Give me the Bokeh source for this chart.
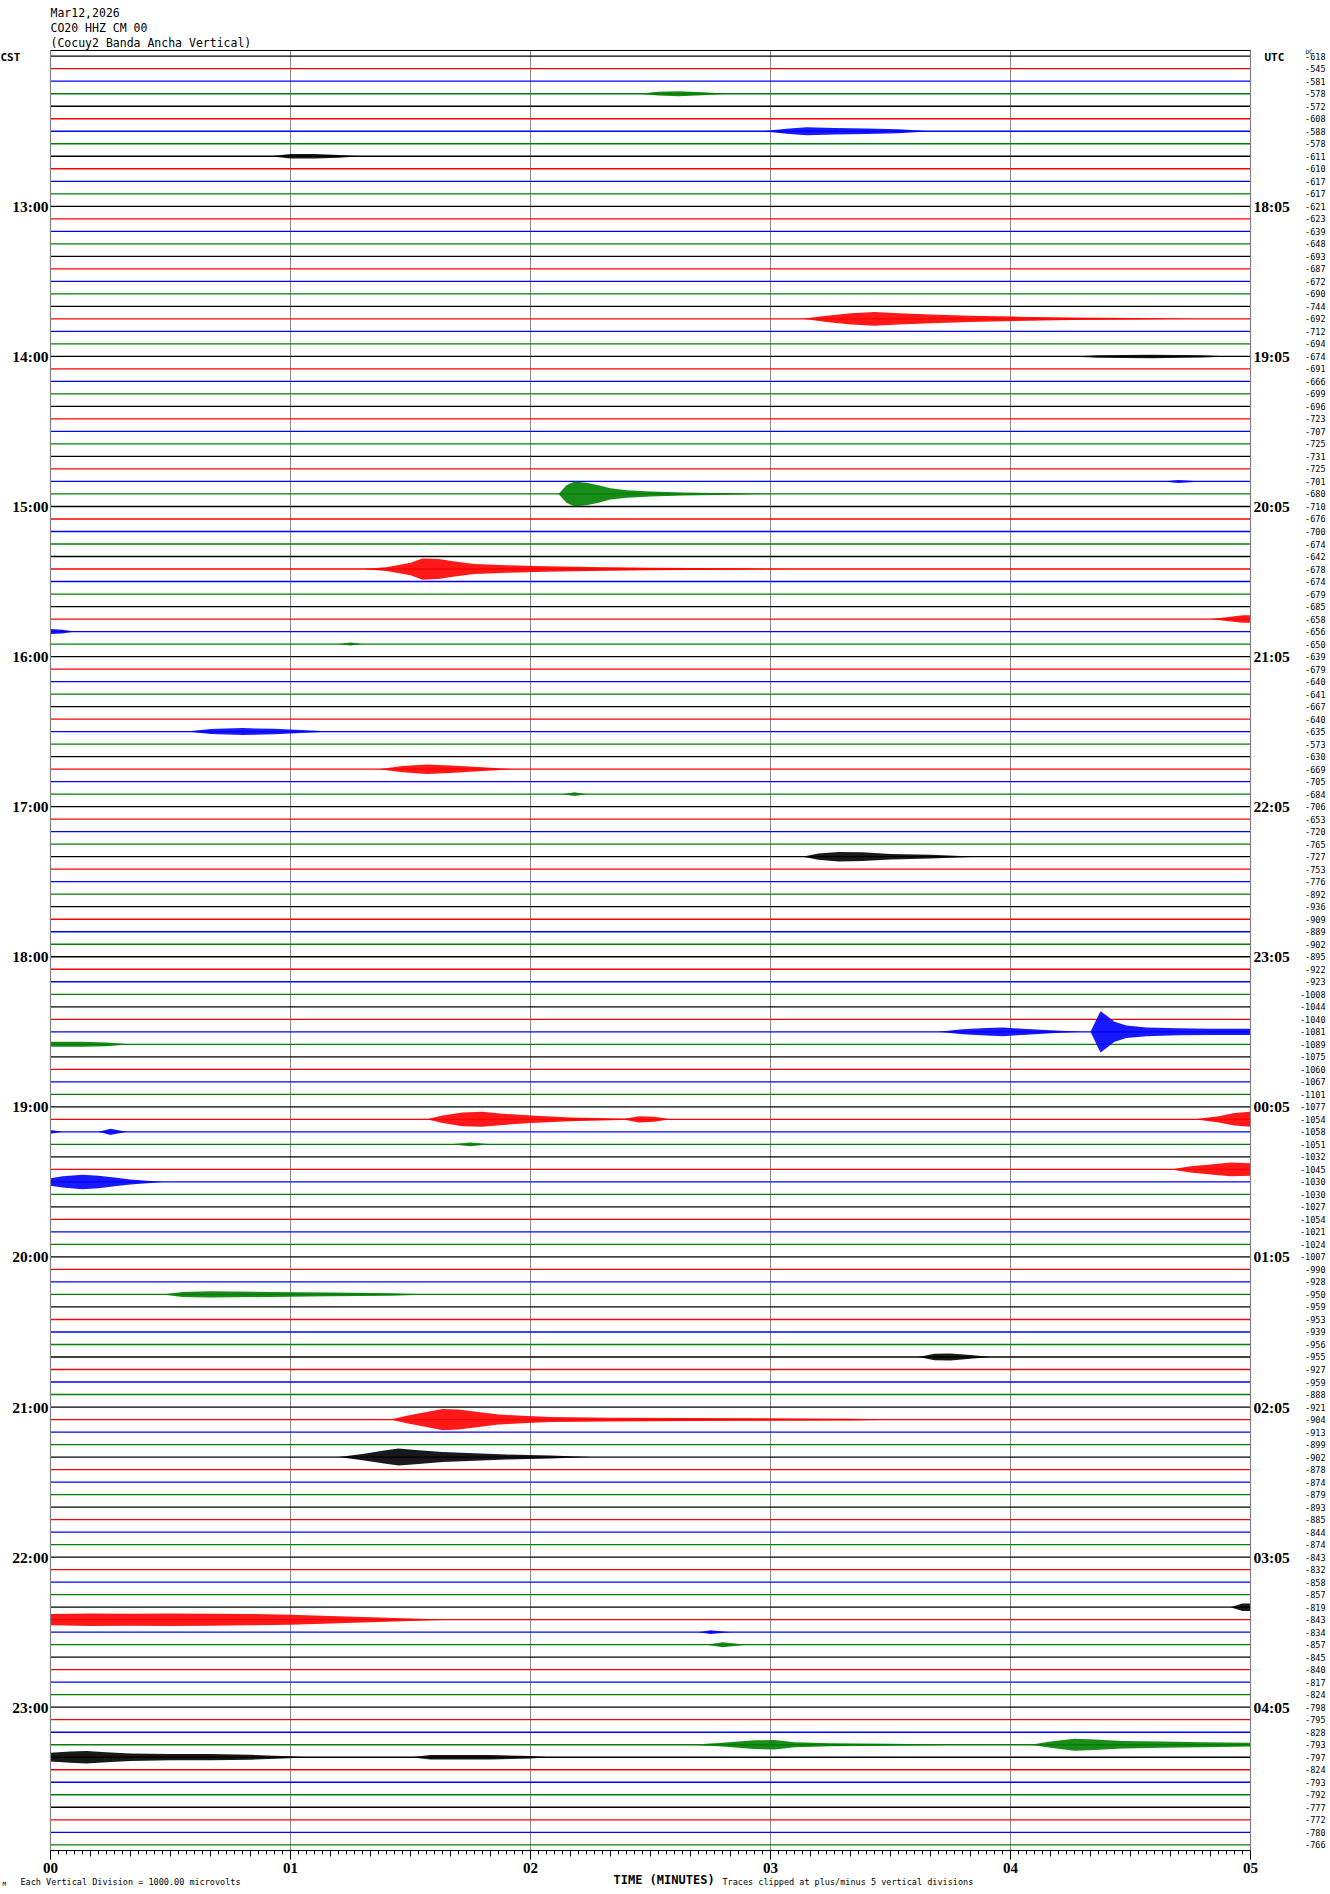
from bokeh.plotting import figure
from bokeh.models import Range1d
from bokeh.embed import file_html
from bokeh.resources import INLINE
from bokeh.core.properties import value

# ---------------- data ----------------
title_lines = ["Mar12,2026", "CO20 HHZ CM 00", "(Cocuy2 Banda Ancha Vertical)"]
n_rows = 144
row_seconds = 300
trace_colors = ["#000000", "#ff0000", "#0000ff", "#008000"]

dc_offsets = [
    -618, -545, -581, -578, -572, -608, -588, -578, -611, -610, -617, -617,
    -621, -623, -639, -648, -693, -687, -672, -690, -744, -692, -712, -694,
    -674, -691, -666, -699, -696, -723, -707, -725, -731, -725, -701, -680,
    -710, -676, -700, -674, -642, -678, -674, -679, -685, -658, -656, -650,
    -639, -679, -640, -641, -667, -640, -635, -573, -630, -669, -705, -684,
    -706, -653, -720, -765, -727, -753, -776, -892, -936, -909, -889, -902,
    -895, -922, -923, -1008, -1044, -1040, -1081, -1089, -1075, -1060, -1067, -1101,
    -1077, -1054, -1058, -1051, -1032, -1045, -1030, -1030, -1027, -1054, -1021, -1024,
    -1007, -990, -928, -950, -959, -953, -939, -956, -955, -927, -959, -888,
    -921, -904, -913, -899, -902, -878, -874, -879, -893, -885, -844, -874,
    -843, -832, -858, -857, -819, -843, -834, -857, -845, -840, -817, -824,
    -798, -795, -828, -793, -797, -824, -793, -792, -777, -772, -780, -766,
]

hour_rows = [12, 24, 36, 48, 60, 72, 84, 96, 108, 120, 132]
cst_labels = ["13:00", "14:00", "15:00", "16:00", "17:00", "18:00",
              "19:00", "20:00", "21:00", "22:00", "23:00"]
utc_labels = ["18:05", "19:05", "20:05", "21:05", "22:05", "23:05",
              "00:05", "01:05", "02:05", "03:05", "04:05"]
minute_labels = ["00", "01", "02", "03", "04", "05"]
minute_grid = [60, 120, 180, 240]

# events: (row, times in seconds, envelope half-amplitude in microvolts)
events = [
    (3,   [147, 152, 157, 163, 170], [0, 150, 200, 120, 0]),
    (6,   [178, 184, 189, 196, 204, 212, 220], [0, 200, 320, 250, 220, 150, 0]),
    (8,   [55, 60, 66, 72, 78], [0, 180, 180, 110, 0]),
    (21,  [188, 194, 200, 206, 212, 220, 230, 241, 255, 270, 285],
          [0, 250, 450, 550, 450, 350, 250, 180, 100, 60, 0]),
    (24,  [255, 262, 275, 288, 295], [0, 100, 140, 90, 0]),
    (34,  [278, 282, 288], [0, 120, 0]),
    (35,  [127, 129, 131, 134, 137, 140, 144, 150, 158, 170, 180],
          [0, 700, 1000, 900, 700, 450, 300, 200, 120, 60, 0]),
    (41,  [78, 84, 90, 93, 97, 101, 106, 114, 124, 135, 150, 170, 185],
          [0, 150, 500, 850, 800, 600, 400, 300, 220, 160, 100, 60, 0]),
    (45,  [290, 294, 298, 300], [0, 150, 300, 300]),
    (46,  [0, 3, 6], [200, 150, 0]),
    (47,  [72, 75, 78], [0, 120, 0]),
    (54,  [34, 40, 48, 56, 64, 70], [0, 200, 280, 220, 100, 0]),
    (57,  [82, 88, 94, 100, 108, 116], [0, 250, 380, 300, 150, 0]),
    (59,  [128, 131, 134], [0, 150, 0]),
    (64,  [188, 192, 197, 203, 210, 220, 232], [0, 250, 380, 350, 220, 150, 0]),
    (78,  [222, 228, 234, 238, 243, 250, 258], [0, 200, 300, 350, 250, 120, 0]),
    (78,  [260, 261.5, 262.5, 264, 266, 269, 274, 282, 290, 300],
          [0, 1000, 1650, 1300, 800, 500, 350, 280, 250, 250]),
    (79,  [0, 8, 14, 20], [200, 200, 150, 0]),
    (85,  [94, 98, 103, 108, 113, 120, 130, 140, 150], [0, 300, 550, 600, 450, 300, 150, 80, 0]),
    (85,  [143, 147, 151, 155], [0, 250, 200, 0]),
    (85,  [286, 292, 296, 300], [0, 250, 500, 600]),
    (86,  [0, 3], [150, 0]),
    (86,  [12, 15, 19], [0, 250, 0]),
    (87,  [100, 105, 110], [0, 150, 0]),
    (89,  [280, 285, 290, 295, 300], [0, 250, 400, 550, 500]),
    (90,  [0, 3, 8, 12, 16, 20, 25, 28], [300, 450, 580, 500, 350, 200, 80, 0]),
    (99,  [28, 33, 40, 55, 70, 85, 95], [0, 200, 250, 200, 150, 100, 0]),
    (104, [217, 221, 225, 230, 235], [0, 250, 280, 150, 0]),
    (109, [85, 89, 94, 98, 102, 107, 112, 118, 125, 140, 160, 180, 200, 215],
          [0, 300, 600, 850, 800, 600, 400, 300, 200, 150, 120, 100, 70, 0]),
    (112, [72, 78, 83, 87, 92, 98, 106, 114, 125, 135],
          [0, 250, 500, 680, 550, 400, 300, 200, 120, 0]),
    (124, [295, 298, 300], [0, 300, 300]),
    (125, [0, 10, 20, 30, 40, 50, 60, 70, 80, 90, 100],
          [450, 500, 480, 500, 480, 450, 400, 300, 200, 100, 0]),
    (126, [162, 165, 170], [0, 150, 0]),
    (127, [164, 168, 174], [0, 200, 0]),
    (135, [160, 168, 176, 181, 186, 195, 210, 230], [0, 150, 350, 380, 200, 120, 80, 0]),
    (135, [245, 250, 256, 261, 268, 278, 288, 300], [0, 250, 480, 420, 300, 250, 200, 150]),
    (136, [0, 5, 9, 14, 20, 30, 40, 50, 58, 65],
          [350, 450, 500, 400, 300, 250, 250, 200, 100, 0]),
    (136, [90, 95, 110, 120, 125], [0, 180, 180, 100, 0]),
]

scale_text = "Each Vertical Division = 1000.00 microvolts"
time_text = "TIME (MINUTES)"
clip_text = "Traces clipped at plus/minus 5 vertical divisions"
uv_per_division = 1000.0

# ---------------- layout: the frame fills the whole canvas ----------------
W, H = 1326, 1888
FR_L, FR_R, FR_T, FR_B = 50, 1250, 50, 1850      # pixel box of the trace area
ROW0 = -0.456                                    # row value at the top edge
ROW_PX = (FR_B - FR_T) / 143.912                 # pixels per row


def X(px):
    return (px - FR_L) * row_seconds / (FR_R - FR_L)


def Y(py):
    return ROW0 + (py - FR_T) / ROW_PX


p = figure(width=W, height=H, x_range=Range1d(X(0), X(W)),
           y_range=Range1d(Y(H), Y(0)), output_backend="svg",
           toolbar_location=None, x_axis_location=None, y_axis_location=None,
           min_border=0)
p.outline_line_color = None
p.grid.visible = False
p.background_fill_color = "white"
p.border_fill_color = "white"

y_top, y_bot = Y(FR_T), Y(FR_B)

# minute grid lines
p.segment(x0=minute_grid, x1=minute_grid, y0=[y_top] * len(minute_grid),
          y1=[y_bot] * len(minute_grid), line_color="#8c8c8c", line_width=1)

# traces
rows = list(range(n_rows))
colors = [trace_colors[r % 4] for r in rows]
p.segment(x0=[0] * n_rows, x1=[row_seconds] * n_rows, y0=rows, y1=rows,
          line_color=colors, line_width=1.3)

for row, ts, amps in events:
    c = trace_colors[row % 4]
    p.varea(x=ts, y1=[row - a / uv_per_division for a in amps],
            y2=[row + a / uv_per_division for a in amps],
            fill_color=c, fill_alpha=0.9)

# frame borders
p.segment(x0=[0, row_seconds], x1=[0, row_seconds], y0=[y_top, y_top],
          y1=[y_bot, y_bot], line_color="#808080", line_width=1.2)
p.segment(x0=[0, 0], x1=[row_seconds, row_seconds], y0=[y_top, y_bot],
          y1=[y_top, y_bot], line_color="black", line_width=1.2)

# time ticks below the trace area
minor = [t for t in range(0, row_seconds + 1, 2) if t % 10 != 0]
mid = [t for t in range(0, row_seconds + 1, 10) if t % 60 != 0]
major = list(range(0, row_seconds + 1, 60))
for ticks, length in ((minor, 4), (mid, 6), (major, 9)):
    p.segment(x0=ticks, x1=ticks, y0=[y_bot] * len(ticks),
              y1=[Y(FR_B + length)] * len(ticks), line_color="black", line_width=1)

p.text(x=major, y=[Y(1867)] * len(major), text=minute_labels,
       text_font=value("Liberation Serif"), text_font_style="bold",
       text_font_size="15px", text_align="center", text_baseline="middle",
       text_color="black")

# hour labels
p.text(x=[X(48)] * len(hour_rows), y=hour_rows, text=cst_labels,
       text_font=value("Liberation Serif"), text_font_style="bold",
       text_font_size="15.5px", text_align="right", text_baseline="middle",
       text_color="black")
p.text(x=[X(1253)] * len(hour_rows), y=hour_rows, text=utc_labels,
       text_font=value("Liberation Serif"), text_font_style="bold",
       text_font_size="15.5px", text_align="left", text_baseline="middle",
       text_color="black")

# DC offsets
p.text(x=[X(1325)] * n_rows, y=rows, text=[str(v) for v in dc_offsets],
       text_font=value("DejaVu Sans Mono"), text_font_size="8.5px",
       text_align="right", text_baseline="middle", text_color="black")


def txt(px, py, s, size, style="normal", font="DejaVu Sans Mono", align="left"):
    p.text(x=[X(px)], y=[Y(py)], text=[s], text_font=value(font),
           text_font_style=style, text_font_size=size, text_align=align,
           text_baseline="middle", text_color="black")


for i, line in enumerate(title_lines):
    txt(50, 12 + 15 * i, line, "11.5px")
txt(0, 57, "CST", "11px", style="bold")
txt(1264, 57, "UTC", "11px", style="bold")
txt(1305, 51, "DC", "6px")
txt(2, 1883, "M", "6px")
txt(20, 1881, scale_text, "8.5px")
txt(613, 1879, time_text, "12px", style="bold")
txt(722, 1881, clip_text, "8.5px")

open("out.html", "w").write(file_html(p, INLINE))
